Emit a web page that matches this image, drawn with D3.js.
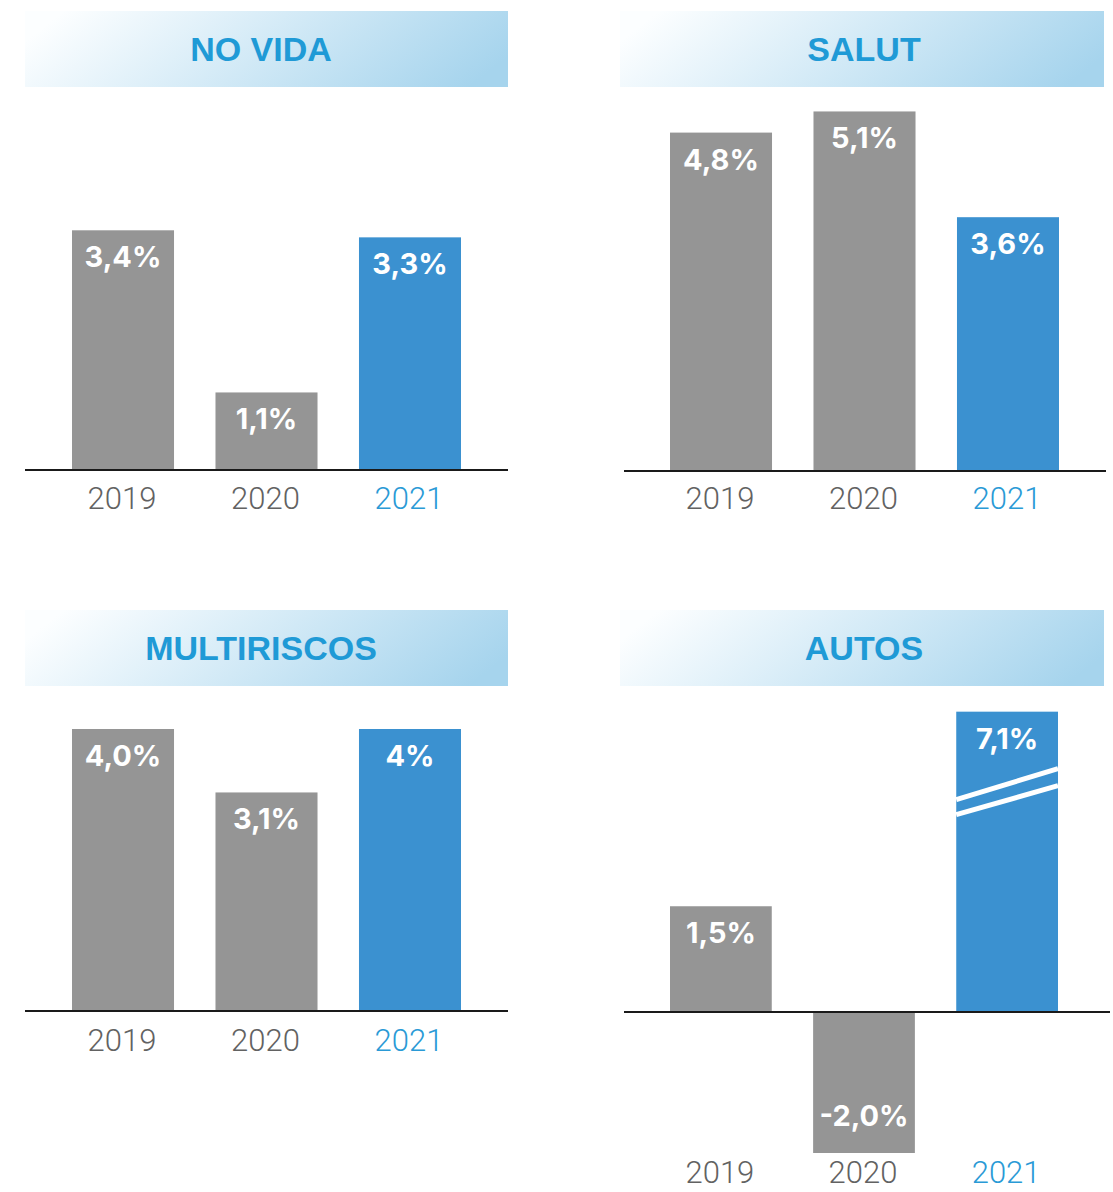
<!DOCTYPE html>
<html>
<head>
<meta charset="utf-8">
<script src="https://cdn.jsdelivr.net/npm/d3@7"></script>
<style>
  body { margin: 0; background: #fff; }
  svg { display: block; }
</style>
</head>
<body>
<svg id="chart"></svg>
<script>
// data
const years = ["2019", "2020", "2021"];
const titles = ["NO VIDA", "SALUT", "MULTIRISCOS", "AUTOS"];
const noVida = [3.4, 1.1, 3.3];
const salut = [4.8, 5.1, 3.6];
const multiriscos = [4.0, 3.1, 4.0];
const autos = [1.5, -2.0, 7.1];
const noVidaLabels = ["3,4%", "1,1%", "3,3%"];
const salutLabels = ["4,8%", "5,1%", "3,6%"];
const multiriscosLabels = ["4,0%", "3,1%", "4%"];
const autosLabels = ["1,5%", "-2,0%", "7,1%"];

// layout of the four panels
const panels = [
    { title: titles[0], values: noVida, labels: noVidaLabels, x0: 25, x1: 508, titleX: 261, top: 11, base: 470, lineEnd: 508, yearY: 509, bars: [72, 461] },
    { title: titles[1], values: salut, labels: salutLabels, x0: 620, x1: 1104, titleX: 864, top: 11, base: 471, lineEnd: 1106, lineStart: 624, yearY: 509, bars: [670, 1059] },
    { title: titles[2], values: multiriscos, labels: multiriscosLabels, x0: 25, x1: 508, titleX: 261, top: 610, base: 1011, lineEnd: 508, yearY: 1051, bars: [72, 461] },
    { title: titles[3], values: autos, labels: autosLabels, x0: 620, x1: 1104, titleX: 864, top: 610, base: 1012, lineEnd: 1110, lineStart: 624, yearY: 1183, bars: [670, 1058], cap: 4.26 }
];

const config = {
    w: 1113, h: 1192,
    headH: 76,
    grey: "#959595",
    blue: "#3b91d0",
    titleColor: "#1f9ad6",
    yearColor: "#626262",
    yearBlue: "#2a9ad6",
    pxPerUnit: 70.5
};

const svg = d3.select("#chart")
    .attr("width", config.w)
    .attr("height", config.h);

const grad = svg.append("defs").append("linearGradient")
    .attr("id", "hdr")
    .attr("x1", 0).attr("y1", 0.4)
    .attr("x2", 1).attr("y2", 0.6);
grad.append("stop").attr("offset", "0%").attr("stop-color", "#fcfeff");
grad.append("stop").attr("offset", "100%").attr("stop-color", "#a6d4ed");

panels.forEach(p => {
    const g = svg.append("g");

    // header band
    g.append("rect")
        .attr("x", p.x0)
        .attr("y", p.top)
        .attr("width", p.x1 - p.x0)
        .attr("height", config.headH)
        .attr("fill", "url(#hdr)");
    g.append("text")
        .attr("x", p.titleX)
        .attr("y", p.top + 50)
        .attr("text-anchor", "middle")
        .attr("font-family", "'Liberation Sans', Arial, sans-serif")
        .attr("font-weight", 700)
        .attr("font-size", 34)
        .attr("fill", config.titleColor)
        .text(p.title);

    const xScale = d3.scaleBand()
        .domain(years)
        .range(p.bars)
        .paddingInner(0.289)
        .paddingOuter(0);
    const yScale = d3.scaleLinear()
        .domain([0, 5])
        .range([p.base, p.base - 5 * config.pxPerUnit]);

    const rows = years.map((yr, i) => ({
        year: yr,
        value: p.values[i],
        shown: p.cap !== undefined ? Math.min(p.values[i], p.cap) : p.values[i],
        label: p.labels[i],
        last: i === years.length - 1,
        clipped: p.cap !== undefined && p.values[i] > p.cap
    }));

    // bars
    g.selectAll("rect.bar")
        .data(rows)
        .join("rect")
        .attr("class", "bar")
        .attr("x", d => xScale(d.year))
        .attr("y", d => yScale(Math.max(0, d.shown)))
        .attr("width", xScale.bandwidth())
        .attr("height", d => Math.abs(yScale(d.shown) - yScale(0)))
        .attr("fill", d => d.last ? config.blue : config.grey);

    // break marks on clipped bars
    rows.filter(d => d.clipped).forEach(d => {
        const bx = xScale(d.year), bw = xScale.bandwidth();
        const top = yScale(d.shown);
        [[88, 57], [103, 74]].forEach(off => {
            g.append("line")
                .attr("x1", bx).attr("y1", top + off[0])
                .attr("x2", bx + bw).attr("y2", top + off[1])
                .attr("stroke", "#fff")
                .attr("stroke-width", 5);
        });
    });

    // value labels
    g.selectAll("text.val")
        .data(rows)
        .join("text")
        .attr("class", "val")
        .attr("x", d => xScale(d.year) + xScale.bandwidth() / 2)
        .attr("y", d => d.shown >= 0 ? yScale(d.shown) + 37 : yScale(d.shown) - 27)
        .attr("text-anchor", "middle")
        .attr("font-family", "Inter, 'Noto Sans', sans-serif")
        .attr("font-weight", 700)
        .attr("font-size", 29)
        .attr("fill", "#fff")
        .text(d => d.label);

    // baseline
    g.append("line")
        .attr("x1", p.lineStart || p.x0)
        .attr("x2", p.lineEnd)
        .attr("y1", yScale(0))
        .attr("y2", yScale(0))
        .attr("stroke", "#1a1a1a")
        .attr("stroke-width", 2);

    // year labels
    g.selectAll("text.yr")
        .data(rows)
        .join("text")
        .attr("class", "yr")
        .attr("x", d => xScale(d.year) + xScale.bandwidth() / 2 - 1)
        .attr("y", p.yearY)
        .attr("text-anchor", "middle")
        .attr("font-family", "Roboto, 'Liberation Sans', sans-serif")
        .attr("font-weight", 300)
        .attr("font-size", 31)
        .attr("fill", d => d.last ? config.yearBlue : config.yearColor)
        .text(d => d.year);
});
</script>
</body>
</html>
